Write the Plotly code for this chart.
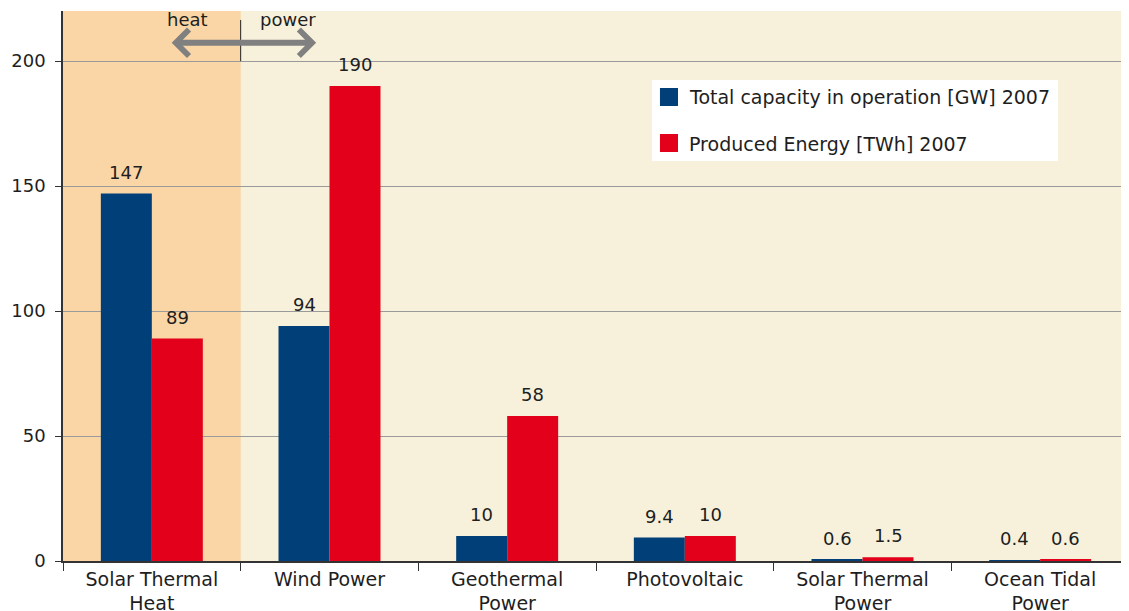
import plotly.graph_objects as go

categories = ["Solar Thermal<br>Heat", "Wind Power", "Geothermal<br>Power",
              "Photovoltaic", "Solar Thermal<br>Power", "Ocean Tidal<br>Power"]
capacity_gw = [147, 94, 10, 9.4, 0.6, 0.4]
energy_twh = [89, 190, 58, 10, 1.5, 0.6]
capacity_labels = ["147", "94", "10", "9.4", "0.6", "0.4"]
energy_labels = ["89", "190", "58", "10", "1.5", "0.6"]
series_names = ["Total capacity in operation [GW] 2007", "Produced Energy [TWh] 2007"]
y_ticks = [0, 50, 100, 150, 200]

BLUE = "#003F77"
RED = "#E2001A"
FONT = "DejaVu Sans"
TXT = "#1e1e1e"

fig = go.Figure()
fig.add_trace(go.Bar(x=categories, y=capacity_gw, name=series_names[0],
                     marker=dict(color=BLUE, line=dict(width=0)), showlegend=False))
fig.add_trace(go.Bar(x=categories, y=energy_twh, name=series_names[1],
                     marker=dict(color=RED, line=dict(width=0)), showlegend=False))

annotations = []
for c, v, t in zip(categories, capacity_gw, capacity_labels):
    annotations.append(dict(x=c, y=v, text=t, showarrow=False, xshift=-25.5, yshift=9,
                            yanchor="bottom", font=dict(size=18, color=TXT, family=FONT)))
for c, v, t in zip(categories, energy_twh, energy_labels):
    annotations.append(dict(x=c, y=v, text=t, showarrow=False, xshift=25.5, yshift=9,
                            yanchor="bottom", font=dict(size=18, color=TXT, family=FONT)))

# heat / power arrow
annotations.append(dict(x=0.925, y=0.9424, xref="x", yref="paper", ax=-146, ay=0,
                        axref="pixel", ayref="pixel", showarrow=True, arrowside="end+start",
                        arrowhead=4, arrowsize=0.85, arrowwidth=6, arrowcolor="#808080", text=""))
annotations.append(dict(x=0.20, y=0.984, xref="x", yref="paper", text="heat", showarrow=False,
                        yanchor="middle", font=dict(size=18, color=TXT, family=FONT)))
annotations.append(dict(x=0.765, y=0.984, xref="x", yref="paper", text="power", showarrow=False,
                        yanchor="middle", font=dict(size=18, color=TXT, family=FONT)))

# manual legend texts
annotations.append(dict(x=0.585, y=0.8436, xref="paper", yref="paper",
                        text=series_names[0], showarrow=False, xanchor="left", yanchor="middle",
                        font=dict(size=19, color=TXT, family=FONT)))
annotations.append(dict(x=0.585, y=0.7582, xref="paper", yref="paper", text=series_names[1],
                        showarrow=False, xanchor="left", yanchor="middle",
                        font=dict(size=19, color=TXT, family=FONT)))

shapes = [
    dict(type="rect", xref="x", yref="paper", x0=-0.5, x1=0.5, y0=0, y1=1,
         fillcolor="#FAD5A5", line=dict(width=0), layer="below"),
    dict(type="line", xref="x", yref="paper", x0=0.5, x1=0.5, y0=0.909, y1=0.9836,
         line=dict(color="#222222", width=1)),
    dict(type="rect", xref="paper", yref="paper", x0=0.5525, x1=0.9334, y0=0.7273, y1=0.8745,
         fillcolor="white", line=dict(width=0)),
    dict(type="rect", xref="paper", yref="paper", x0=0.5600, x1=0.5769, y0=0.8273, y1=0.8600,
         fillcolor=BLUE, line=dict(width=0)),
    dict(type="rect", xref="paper", yref="paper", x0=0.5600, x1=0.5769, y0=0.7436, y1=0.7764,
         fillcolor=RED, line=dict(width=0)),
]

# page body has an 8px margin: shrink the figure and margins to compensate
fig.update_layout(
    width=1121, height=603,
    margin=dict(l=55, r=0, t=3, b=50),
    paper_bgcolor="white", plot_bgcolor="#F7F1DC",
    barmode="group", bargap=0.426, bargroupgap=0,
    font=dict(family=FONT, size=18, color=TXT),
    annotations=annotations, shapes=shapes,
    xaxis=dict(range=[-0.5, 5.5], tickson="boundaries", ticks="outside", ticklen=8,
               tickcolor="#333333", showline=True, linecolor="#333333", linewidth=1.5,
               showgrid=False, tickfont=dict(size=19, color=TXT), automargin=False),
    yaxis=dict(range=[0, 220], tickvals=y_ticks, ticks="outside", ticklen=6,
               tickcolor="#333333", showline=True, linecolor="#333333", linewidth=1.5,
               gridcolor="#9a9a9a", gridwidth=1, zeroline=False,
               tickfont=dict(size=18, color=TXT), ticklabelstandoff=6, automargin=False),
)

fig.write_html("out.html")
